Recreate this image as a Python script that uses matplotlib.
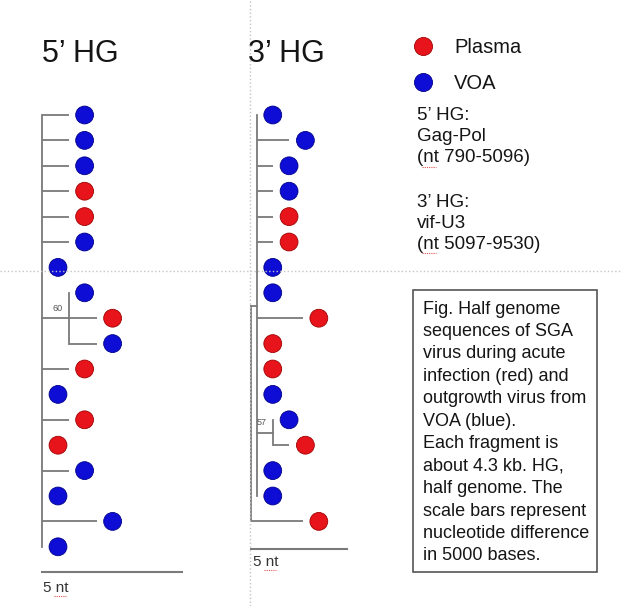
import matplotlib
matplotlib.use("Agg")
import matplotlib.pyplot as plt
from matplotlib.lines import Line2D
from matplotlib.patches import Rectangle
from matplotlib.transforms import offset_copy

plt.rcParams['font.family'] = ['Liberation Sans', 'DejaVu Sans']

# figure size in pixels
W, H = 622, 606

# 5' HG tree: tip position (nt from root) and sample type per leaf, top to bottom
tips5 = [0.95, 0.95, 0.95, 0.95, 0.95, 0.95, 0.0, 0.95, 1.95, 1.95,
         0.95, 0.0, 0.95, 0.0, 0.95, 0.0, 1.95, 0.0]
parent5 = [0.0, 0.0, 0.0, 0.0, 0.0, 0.0, 0.0, 0.95, 0.95, 0.95,
           0.0, 0.0, 0.0, 0.0, 0.0, 0.0, 0.0, 0.0]
kind5 = ['VOA', 'VOA', 'VOA', 'Plasma', 'Plasma', 'VOA', 'VOA', 'VOA', 'Plasma', 'VOA',
         'Plasma', 'VOA', 'Plasma', 'Plasma', 'VOA', 'VOA', 'VOA', 'VOA']
clade5 = (0.95, 7, 9, 8, '60')  # node x, first leaf, last leaf, junction leaf, bootstrap

# 3' HG tree
root3 = 0.3
tips3 = [0.3, 2.0, 1.15, 1.15, 1.15, 1.15, 0.3, 0.3, 2.7, 0.3,
         0.3, 0.3, 1.15, 2.0, 0.3, 0.3, 2.7]
parent3 = [0.3, 0.3, 0.3, 0.3, 0.3, 0.3, 0.3, 0.3, 0.3, 0.3,
           0.3, 0.3, 1.15, 1.15, 0.3, 0.3, 0.0]
kind3 = ['VOA', 'VOA', 'VOA', 'VOA', 'Plasma', 'Plasma', 'VOA', 'VOA', 'Plasma', 'Plasma',
         'Plasma', 'VOA', 'VOA', 'Plasma', 'VOA', 'VOA', 'Plasma']
clade3 = (1.15, 12, 13, 12.5, '57')

colors = {'Plasma': '#e8141b', 'VOA': '#0d0dd6'}
edges = {'Plasma': '#a00000', 'VOA': '#00008a'}
LC = '#7a7a7a'
TC = '#151515'

caption = ["Fig. Half genome", "sequences of SGA", "virus during acute",
           "infection (red) and", "outgrowth virus from", "VOA (blue).",
           "Each fragment is", "about 4.3 kb. HG,", "half genome. The",
           "scale bars represent", "nucleotide difference", "in 5000 bases."]

fig = plt.figure(figsize=(W / 100, H / 100), dpi=100)
fig.patch.set_facecolor('white')


def tree_axes(box, x0, sx, y0, sy):
    l, t, r, b = box
    ax = fig.add_axes([l / W, 1 - b / H, (r - l) / W, (b - t) / H])
    ax.set_xlim((l - x0) / sx, (r - x0) / sx)
    ax.set_ylim((b - y0) / sy, (t - y0) / sy)
    ax.axis('off')
    return ax


def draw_tree(ax, tips, parents, kinds):
    idx = list(range(len(tips)))
    for i in idx:
        if tips[i] > parents[i]:
            ax.plot([parents[i], tips[i]], [i, i], color=LC, lw=1.3, solid_capstyle='butt')
    dots = offset_copy(ax.transData, fig=fig, x=16, y=0, units='dots')
    ax.scatter(tips, idx, s=165, c=[colors[k] for k in kinds],
               edgecolors=[edges[k] for k in kinds], linewidths=0.6,
               transform=dots, zorder=3, clip_on=False)


def squiggle(x0, x1, y):
    # spell-check underline under "nt"
    fig.add_artist(Line2D([x0 / W, x1 / W], [1 - y / H] * 2, ls=(0, (1, 1)),
                          color='#e05050', lw=0.8))


# page guide lines (dotted)
fig.add_artist(Line2D([250 / W, 250 / W], [0, 1], ls=':', color='#c4c4c4', lw=1))
fig.add_artist(Line2D([0, 1], [1 - 271 / H] * 2, ls=':', color='#c4c4c4', lw=1))

# ---- 5' HG tree
ax5 = tree_axes((0, 80, 250, 606), 42, 28, 115, 25.4)
ax5.plot([0, 0], [0, len(tips5) - 1], color=LC, lw=1.3)
nx, a, b, j, bs = clade5
ax5.plot([nx, nx], [a, b], color=LC, lw=1.3)
ax5.plot([0, nx], [j, j], color=LC, lw=1.3)
ax5.text(nx - 0.4, j - 0.4, bs, fontsize=6.5, color='#555', ha='center', va='center')
draw_tree(ax5, tips5, parent5, kind5)
ax5.plot([0, 5], [18.0, 18.0], color=LC, lw=1.5)
ax5.text(0.03, 18.62, '5 nt', fontsize=11, color='#333', va='center')
squiggle(54, 66, 596)

# ---- 3' HG tree
ax3 = tree_axes((240, 80, 400, 606), 251, 19.2, 115, 25.4)
mid = (len(tips3) - 2) / 2
ax3.plot([root3, root3], [0, len(tips3) - 2], color=LC, lw=1.3)
ax3.plot([0, 0], [mid, len(tips3) - 1], color=LC, lw=1.3)
ax3.plot([0, root3], [mid, mid], color=LC, lw=1.3)
nx, a, b, j, bs = clade3
ax3.plot([nx, nx], [a, b], color=LC, lw=1.3)
ax3.plot([root3, nx], [j, j], color=LC, lw=1.3)
ax3.text(0.57, 12.1, bs, fontsize=6.5, color='#555', ha='center', va='center')
draw_tree(ax3, tips3, parent3, kind3)
ax3.plot([0, 5], [17.1, 17.1], color=LC, lw=1.5)
ax3.text(0.1, 17.6, '5 nt', fontsize=11, color='#333', va='center')
squiggle(264, 276, 570)

# ---- titles
fig.text(42 / W, 1 - 54 / H, '5\u2019 HG', fontsize=22, color=TC, va='center')
fig.text(248 / W, 1 - 54 / H, '3\u2019 HG', fontsize=22, color=TC, va='center')

# ---- legend
handles = [Line2D([], [], ls='none', marker='o', markersize=13, color=colors[k],
                  markeredgecolor=edges[k], markeredgewidth=0.6) for k in ['Plasma', 'VOA']]
fig.legend(handles, ['Plasma', 'VOA'], loc='upper left',
           bbox_to_anchor=(413 / W, 1 - 38 / H), frameon=False, fontsize=14.5,
           handlelength=1.0, handletextpad=1.05, labelspacing=0.85,
           borderpad=0, borderaxespad=0, labelcolor=TC)

region_lines = ['5\u2019 HG:', 'Gag-Pol', '(nt 790-5096)', None,
                '3\u2019 HG:', 'vif-U3', '(nt 5097-9530)']
ytxt = 116
for line in region_lines:
    if line is None:
        ytxt += 24
        continue
    fig.text(417 / W, 1 - ytxt / H, line, fontsize=13.5, color=TC, va='center')
    if line.startswith('(nt'):
        squiggle(422, 436, ytxt + 9)
    ytxt += 20.8

# ---- caption box
fig.add_artist(Rectangle((413 / W, 1 - 572 / H), 184 / W, 282 / H, transform=fig.transFigure,
                         fill=False, ec='#555555', lw=1.2))
for i, line in enumerate(caption):
    fig.text(423 / W, 1 - (309 + 22.45 * i) / H, line, fontsize=13, color=TC, va='center')

fig.savefig('out.png', dpi=100)
